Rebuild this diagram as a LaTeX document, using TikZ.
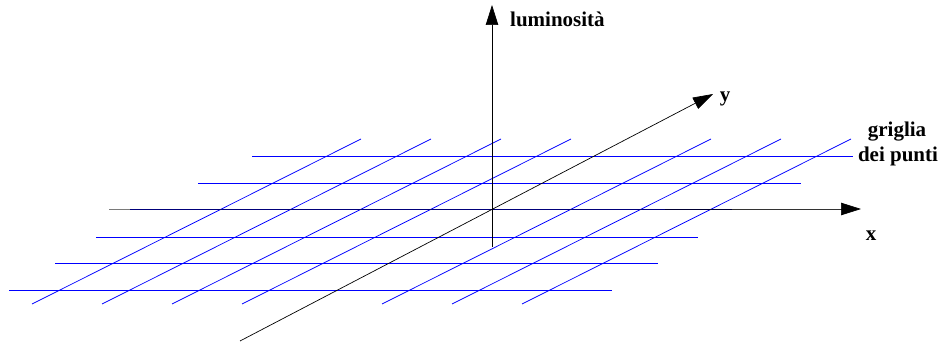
\documentclass[tikz,border=0pt]{standalone}
\usepackage{fontspec}
\setmainfont{Liberation Serif}
\usetikzlibrary{arrows.meta,calc}
\begin{document}
\begin{tikzpicture}[x=1pt,y=-1pt,
  gridline/.style={draw=blue, line width=0.75pt},
  axisline/.style={draw=black, line width=0.7pt},
  tipped/.style={-{Triangle[length=20pt,width=12.5pt]}},
  lab/.style={inner sep=0pt, font=\fontsize{21}{25}\selectfont\bfseries}]
\useasboundingbox (0,0) rectangle (939,342);
% horizontal grid lines
\foreach \ya/\xa/\xb in {156/252/853, 183/198/801, 209/130/732, 237/96/698, 263/55/658, 290/9/612}
  \draw[gridline] (\xa,\ya) -- (\xb,\ya);
% oblique grid lines
\foreach \k in {0,1,2,3,5,6,7}
  \draw[gridline] ({32+70*\k},304) -- ({361+70*\k},139);
% axes
\coordinate (O) at (492,209);
\coordinate (xs) at (109,209);
\coordinate (xe) at (861,209);
\coordinate (xm) at (842,209);
\coordinate (zs) at (492,247);
\coordinate (ze) at (492,5);
\coordinate (ys) at (240,341);
\coordinate (ye) at (713,94);
\draw[axisline, draw opacity=0.8] (xs) -- (O) -- (xm);
\draw[axisline, tipped] (xm) -- (xe);
\draw[axisline, tipped] (zs) -- (ze);
\draw[axisline, tipped] (ys) -- (ye);
% labels
\node[lab, anchor=base west] (lum) at (510,26.7) {luminosità};
\node[lab, anchor=base] (ly) at (725,101.5) {y};
\node[lab, anchor=base] (lx) at (871,240) {x};
\node[lab, anchor=base] (g1) at (897,136.7) {griglia};
\node[lab, anchor=base] (g2) at (898,161.7) {dei punti};
\end{tikzpicture}
\end{document}
